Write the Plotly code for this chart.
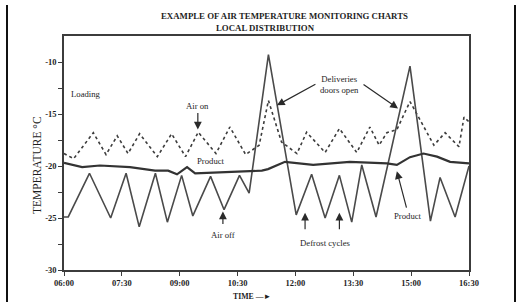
import plotly.graph_objects as go

# ---- data (time in decimal hours, temperature in °C) ----
air_time = [6.00, 6.11, 6.66, 7.21, 7.61, 7.95, 8.37, 8.68, 9.05, 9.34, 9.80, 10.15,
            10.55, 10.80, 11.30, 12.02, 12.42, 12.77, 13.14, 13.46, 13.72, 14.09,
            14.97, 15.50, 15.75, 16.14, 16.50]
air_temp = [-24.9, -24.9, -20.7, -25.0, -20.7, -25.85, -20.7, -25.4, -20.9, -24.8, -21.0, -24.2,
            -20.9, -22.6, -9.3, -24.7, -20.8, -25.0, -20.9, -25.4, -19.9, -24.9,
            -10.4, -25.3, -21.1, -24.9, -20.0]

airon_time = [6.00, 6.25, 6.76, 7.09, 7.38, 7.66, 7.96, 8.42, 8.79, 9.15, 9.48, 9.94,
              10.30, 10.71, 11.06, 11.30, 11.64, 12.04, 12.29, 12.77, 13.14, 13.59,
              13.93, 14.17, 14.37, 14.63, 14.97, 15.59, 15.88, 16.24, 16.37, 16.50]
airon_temp = [-18.8, -19.3, -16.8, -18.9, -17.1, -18.8, -16.9, -19.1, -16.9, -19.1, -16.75, -18.8,
              -16.25, -18.9, -18.0, -13.7, -17.7, -18.8, -16.75, -18.7, -16.4, -18.7,
              -16.25, -18.0, -16.8, -16.5, -13.8, -18.0, -16.8, -18.15, -15.3, -15.75]

product_time = [6.00, 6.47, 6.93, 7.71, 8.36, 8.70, 8.93, 9.19, 9.40, 9.94, 11.13, 11.29,
                11.73, 12.46, 13.41, 14.37, 14.63, 14.97, 15.32, 15.67, 16.01, 16.50]
product_temp = [-19.7, -20.1, -19.95, -20.1, -20.45, -20.45, -20.8, -20.1, -20.7, -20.6, -20.45, -20.3,
                -19.6, -19.9, -19.6, -19.75, -19.9, -19.15, -18.8, -19.1, -19.6, -19.75]

x_tickvals = [6.0, 7.5, 9.0, 10.5, 12.0, 13.5, 15.0, 16.5]
x_ticktext = ["<b>06:00</b>", "<b>07:30</b>", "<b>09:00</b>", "<b>10:30</b>",
              "<b>12:00</b>", "<b>13:30</b>", "<b>15:00</b>", "<b>16:30</b>"]
y_tickvals = [-30, -27.5, -25, -22.5, -20, -17.5, -15, -12.5, -10]
y_ticktext = ["<b>-30</b>", "", "<b>-25</b>", "", "<b>-20</b>", "", "<b>-15</b>", "", "<b>-10</b>"]

LINE = "#3c3c3c"
TXT = "#1e1e1e"
SERIF = "Liberation Serif, Times New Roman, serif"

fig = go.Figure()
fig.add_trace(go.Scatter(x=airon_time, y=airon_temp, mode="lines",
                         line=dict(color=LINE, width=1.6, dash="dot"), name="Air on"))
fig.add_trace(go.Scatter(x=air_time, y=air_temp, mode="lines",
                         line=dict(color="#4a4a4a", width=1.6), name="Air"))
fig.add_trace(go.Scatter(x=product_time, y=product_temp, mode="lines",
                         line=dict(color="#333333", width=2.2), name="Product"))

ann = []
def txt(x, y, s, size=8.7, xanchor="center"):
    ann.append(dict(x=x, y=y, xref="x", yref="y", text=s, showarrow=False,
                    xanchor=xanchor, yanchor="middle",
                    font=dict(family=SERIF, size=size, color=TXT)))

def arrow(x, y, ax, ay):
    ann.append(dict(x=x, y=y, xref="x", yref="y", text="", showarrow=True,
                    ax=ax, ay=ay, arrowhead=2, arrowsize=1.3, arrowwidth=1.2,
                    arrowcolor="#2a2a2a"))

txt(6.13, -13.1, "Loading", xanchor="left")
txt(9.46, -14.27, "Air on")
arrow(9.47, -16.5, 0, -18)
txt(9.81, -19.5, "Product")
txt(10.12, -26.6, "Air off")
arrow(10.12, -24.37, 0, 14)
txt(13.13, -12.14, "Deliveries<br>doors open")
arrow(11.52, -14.17, 40, -22)
arrow(14.66, -14.47, -36, -25)
txt(12.79, -27.4, "Defrost cycles")
arrow(12.25, -24.5, 0, 18)
arrow(13.14, -24.5, 0, 18)
txt(14.92, -24.85, "Product")
arrow(14.63, -20.5, 10, 38)

# titles in paper coordinates (positions given in page pixels)
def ptxt(px, py, s, size, bold=False, angle=0):
    ann.append(dict(x=(px - 64) / 405, y=(270 - py) / 234, xref="paper", yref="paper",
                    text=("<b>%s</b>" % s) if bold else s, showarrow=False,
                    xanchor="center", yanchor="middle", textangle=angle,
                    font=dict(family=SERIF, size=size, color=TXT)))

ptxt(284.5, 16, "EXAMPLE OF AIR TEMPERATURE MONITORING CHARTS", 8.8, bold=True)
ptxt(265, 28, "LOCAL DISTRIBUTION", 8.8, bold=True)
ptxt(37, 165, "TEMPERATURE °C", 11.5, angle=-90)
ptxt(252, 296, "TIME —►", 7.8, bold=True)

shapes = [
    dict(type="line", xref="paper", yref="paper", x0=(7 - 64) / 405, x1=(7 - 64) / 405,
         y0=(270 - 5) / 234, y1=(270 - 302) / 234, line=dict(color="#111", width=2)),
    dict(type="line", xref="paper", yref="paper", x0=(515 - 64) / 405, x1=(515 - 64) / 405,
         y0=(270 - 5) / 234, y1=(270 - 302) / 234, line=dict(color="#111", width=2)),
]

fig.update_layout(
    width=519, height=302,
    margin=dict(l=64, r=50, t=36, b=32),
    paper_bgcolor="white", plot_bgcolor="white",
    showlegend=False,
    annotations=ann, shapes=shapes,
    xaxis=dict(range=[6, 16.5], tickmode="array", tickvals=x_tickvals, ticktext=x_ticktext,
               showgrid=False, zeroline=False, showline=True, linecolor=LINE, linewidth=1.6,
               mirror=True, ticks="outside", ticklen=4, tickcolor=LINE, tickwidth=1.2,
               tickfont=dict(family=SERIF, size=8.5, color=TXT)),
    yaxis=dict(range=[-30, -7.5], tickmode="array", tickvals=y_tickvals, ticktext=y_ticktext,
               showgrid=False, zeroline=False, showline=True, linecolor=LINE, linewidth=1.6,
               mirror=True, ticks="outside", ticklen=4, tickcolor=LINE, tickwidth=1.2,
               tickfont=dict(family=SERIF, size=8.5, color=TXT)),
)

fig.write_html("out.html", config={"displayModeBar": False},
               post_script="document.body.style.margin='0';document.body.style.overflow='hidden';")
